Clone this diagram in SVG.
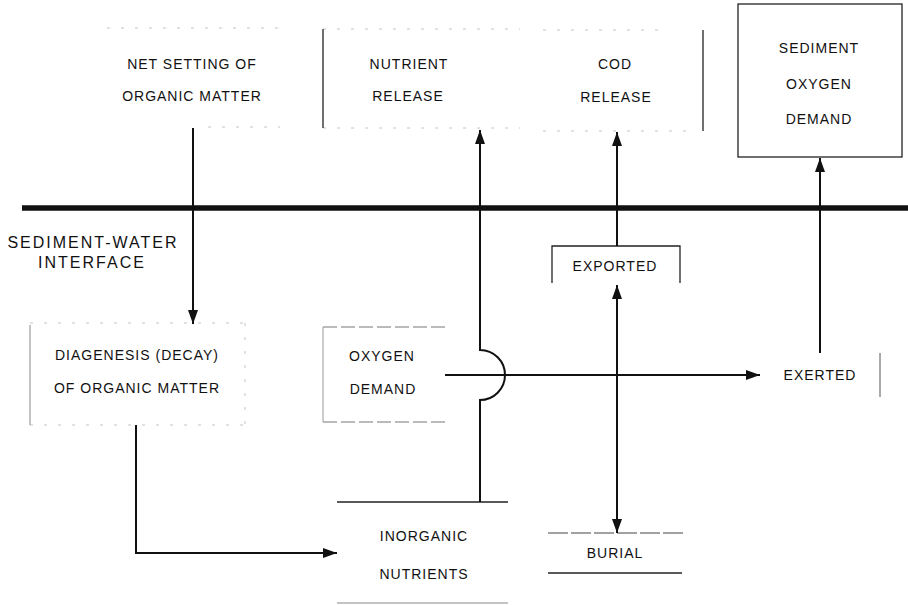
<svg xmlns="http://www.w3.org/2000/svg" width="908" height="605" viewBox="0 0 908 605">
<style>
text{font-family:"Liberation Sans",Arial,sans-serif;font-size:14px;letter-spacing:1px;fill:#111;text-anchor:middle}
.big{font-size:16px;letter-spacing:2px}
.faint{stroke:#c4c4c4;stroke-width:1;fill:none;stroke-dasharray:3 11}
.edge{stroke:#222;stroke-width:1.3;fill:none}
.ln{stroke:#111;stroke-width:2;fill:none}
</style>
<defs>
<marker id="ah" viewBox="0 0 14 10" refX="14" refY="5" markerWidth="14" markerHeight="10" markerUnits="userSpaceOnUse" orient="auto-start-reverse">
<path d="M0,0 L14,5 L0,10 Z" fill="#111"/>
</marker>
</defs>
<rect width="908" height="605" fill="#fff"/>

<g id="net-setting">
<line class="faint" x1="107" y1="28" x2="280" y2="28"/>
<line class="faint" x1="208" y1="127" x2="280" y2="127"/>
<text x="192" y="69">NET SETTING OF</text>
<text x="192" y="101">ORGANIC MATTER</text>
</g>

<g id="nutrient-release">
<line class="faint" x1="323" y1="29" x2="520" y2="29"/>
<line class="faint" x1="323" y1="128" x2="520" y2="128"/>
<line class="edge" x1="323" y1="29" x2="323" y2="128"/>
<text x="409" y="69">NUTRIENT</text>
<text x="408" y="101">RELEASE</text>
</g>

<g id="cod-release">
<line class="faint" x1="543" y1="30" x2="660" y2="30"/>
<line class="faint" x1="543" y1="131" x2="690" y2="131"/>
<line class="edge" x1="703" y1="30" x2="703" y2="131"/>
<text x="615" y="69">COD</text>
<text x="616" y="102">RELEASE</text>
</g>

<g id="sediment-oxygen-demand">
<rect class="edge" x="738" y="4" width="164" height="153"/>
<text x="819" y="53">SEDIMENT</text>
<text x="819" y="89">OXYGEN</text>
<text x="819" y="124">DEMAND</text>
</g>

<g id="interface">
<line x1="22" y1="208" x2="908" y2="208" stroke="#111" stroke-width="5.5"/>
<text class="big" x="93" y="248">SEDIMENT-WATER</text>
<text class="big" x="92" y="268">INTERFACE</text>
</g>

<g id="diagenesis">
<line class="faint" x1="30" y1="323" x2="245" y2="323"/>
<line class="faint" x1="30" y1="425" x2="245" y2="425"/>
<line class="faint" x1="245" y1="323" x2="245" y2="425"/>
<line stroke="#888" stroke-width="1" x1="30" y1="325" x2="30" y2="425"/>
<text x="137" y="360">DIAGENESIS (DECAY)</text>
<text x="137" y="393">OF ORGANIC MATTER</text>
</g>

<g id="oxygen-demand">
<line stroke="#777" stroke-width="1" stroke-dasharray="14 4" x1="323" y1="327" x2="445" y2="327"/>
<line stroke="#777" stroke-width="1" stroke-dasharray="14 4" x1="323" y1="422" x2="445" y2="422"/>
<line stroke="#999" stroke-width="1" x1="323" y1="327" x2="323" y2="422"/>
<text x="382" y="361">OXYGEN</text>
<text x="383" y="394">DEMAND</text>
</g>

<g id="exported">
<path class="edge" d="M552,283 V246 H680 V283"/>
<text x="615" y="271">EXPORTED</text>
</g>

<g id="exerted">
<line stroke="#555" stroke-width="1" x1="880" y1="353" x2="880" y2="397"/>
<text x="820" y="380">EXERTED</text>
</g>

<g id="inorganic-nutrients">
<line class="edge" x1="337" y1="502" x2="508" y2="502"/>
<line stroke="#888" stroke-width="1" x1="337" y1="603" x2="508" y2="603"/>
<text x="424" y="541">INORGANIC</text>
<text x="424" y="579">NUTRIENTS</text>
</g>

<g id="burial">
<line stroke="#444" stroke-width="1" stroke-dasharray="20 3" x1="548" y1="533" x2="683" y2="533"/>
<line class="edge" x1="548" y1="573" x2="682" y2="573"/>
<text x="615" y="558">BURIAL</text>
</g>

<g id="connectors">
<line class="ln" x1="193" y1="128" x2="193" y2="324" marker-end="url(#ah)"/>
<path class="ln" d="M136,425 V553 H337" marker-end="url(#ah)"/>
<path class="ln" d="M480,502 V400 A25,25 0 0 0 480,350 V130" marker-end="url(#ah)"/>
<line class="ln" x1="445" y1="375" x2="760" y2="375" marker-end="url(#ah)"/>
<line class="ln" x1="617" y1="246" x2="617" y2="132" marker-end="url(#ah)"/>
<line class="ln" x1="617" y1="285" x2="617" y2="533" marker-start="url(#ah)" marker-end="url(#ah)"/>
<line class="ln" x1="820" y1="353" x2="820" y2="158" marker-end="url(#ah)"/>
</g>
</svg>
